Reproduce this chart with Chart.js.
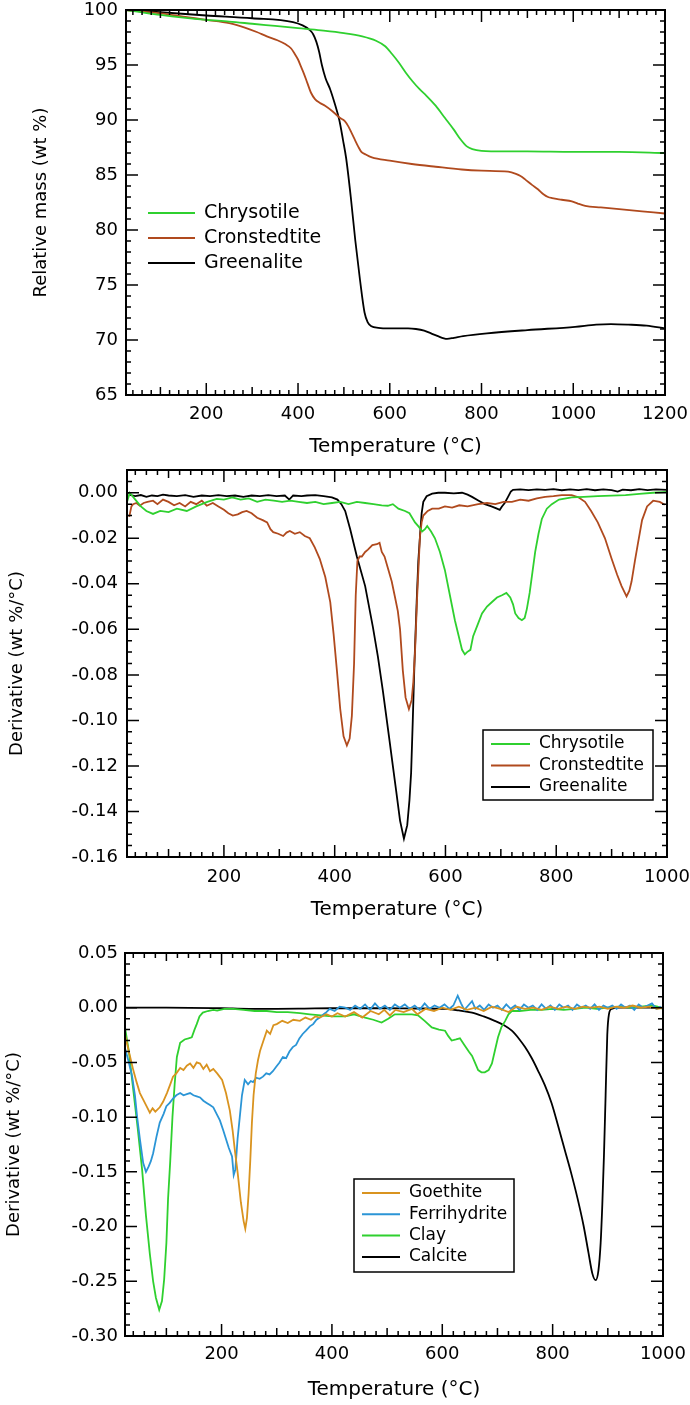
<!DOCTYPE html>
<html>
<head>
<meta charset="utf-8">
<script src="https://cdn.jsdelivr.net/npm/chart.js@4.4.1/dist/chart.umd.min.js"></script>
<style>
  html, body { margin: 0; padding: 0; background: #fff; }
  canvas { position: absolute; left: 0; }
</style>
</head>
<body>
<canvas id="tga" width="690" height="460" style="top:0px"></canvas>
<canvas id="dtg" width="690" height="470" style="top:460px"></canvas>
<canvas id="ref" width="690" height="475" style="top:930px"></canvas>
<script>
// ---------------------------- tick labels

const tempTicksTGA = [200, 400, 600, 800, 1000, 1200];
const tempTicksDTG = [200, 400, 600, 800, 1000];
const massTicks = [65, 70, 75, 80, 85, 90, 95, 100];
const dtgTicks = [-0.16, -0.14, -0.12, -0.10, -0.08, -0.06, -0.04, -0.02, 0.00];
const refTicks = [-0.30, -0.25, -0.20, -0.15, -0.10, -0.05, 0.00, 0.05];

// ---------------------------- data, [temperature °C, value]

// top panel: relative mass (wt %)
const chrysotileMass = [[25,100],[50,99.85],[100,99.55],[150,99.3],[200,99.1],[250,98.95],[300,98.75],[350,98.55],[400,98.35],[450,98.15],[500,97.9],[540,97.6],[570,97.2],[590,96.7],[605,96.0],[620,95.2],[635,94.3],[650,93.5],[665,92.8],[680,92.2],[700,91.3],[720,90.2],[740,89.1],[755,88.2],[768,87.6],[780,87.35],[800,87.2],[850,87.15],[900,87.15],[1000,87.1],[1100,87.1],[1200,87.0]];
const cronstedtiteMass = [[25,100],[100,99.7],[150,99.4],[200,99.1],[250,98.8],[284,98.4],[310,98.0],[332,97.6],[355,97.25],[372,96.9],[385,96.5],[393,96.0],[400,95.5],[407,94.8],[413,94.2],[420,93.4],[428,92.5],[437,91.9],[448,91.55],[459,91.3],[475,90.8],[491,90.2],[502,89.9],[510,89.4],[517,88.8],[524,88.2],[531,87.6],[538,87.1],[546,86.9],[561,86.6],[600,86.3],[648,86.0],[700,85.75],[757,85.5],[800,85.4],[858,85.3],[875,85.1],[885,84.9],[895,84.6],[910,84.1],[923,83.7],[935,83.25],[945,83.0],[954,82.9],[975,82.75],[997,82.6],[1010,82.4],[1026,82.2],[1060,82.05],[1100,81.9],[1150,81.7],[1200,81.5]];
const greenaliteMass = [[25,100],[100,99.8],[200,99.5],[300,99.25],[389,98.9],[410,98.6],[425,98.2],[433,97.8],[440,97.1],[446,96.2],[452,95.0],[460,93.8],[470,92.8],[480,91.5],[490,90.0],[498,88.2],[505,86.5],[515,83.0],[525,79.0],[535,75.5],[545,72.5],[552,71.6],[560,71.25],[575,71.1],[600,71.05],[640,71.05],[657,71.0],[675,70.85],[690,70.6],[705,70.35],[718,70.15],[725,70.1],[740,70.2],[760,70.35],[812,70.6],[900,70.9],[1004,71.2],[1050,71.4],[1082,71.45],[1120,71.4],[1160,71.3],[1200,71.05]];

// middle panel: derivative (wt %/°C)
const chrysotileDTG = [[25,-0.004],[30,0.0],[40,-0.003],[50,-0.006],[60,-0.008],[72,-0.0093],[85,-0.008],[100,-0.0085],[115,-0.007],[133,-0.008],[150,-0.006],[170,-0.004],[187,-0.0027],[200,-0.003],[215,-0.002],[230,-0.003],[245,-0.0025],[260,-0.004],[275,-0.003],[290,-0.0035],[305,-0.004],[320,-0.0035],[335,-0.004],[350,-0.0045],[365,-0.004],[380,-0.005],[395,-0.0045],[410,-0.004],[425,-0.005],[440,-0.004],[455,-0.0045],[470,-0.005],[485,-0.0055],[496,-0.0057],[505,-0.005],[515,-0.007],[527,-0.008],[535,-0.009],[545,-0.013],[552,-0.015],[558,-0.017],[563,-0.016],[567,-0.0146],[574,-0.017],[581,-0.020],[590,-0.026],[599,-0.034],[608,-0.045],[617,-0.056],[624,-0.063],[630,-0.069],[635,-0.071],[639,-0.070],[645,-0.069],[650,-0.063],[658,-0.058],[666,-0.053],[675,-0.050],[684,-0.048],[693,-0.046],[702,-0.045],[710,-0.044],[717,-0.046],[722,-0.049],[726,-0.053],[732,-0.055],[738,-0.056],[743,-0.055],[747,-0.051],[752,-0.044],[757,-0.035],[762,-0.026],[768,-0.018],[774,-0.0115],[783,-0.007],[792,-0.005],[805,-0.003],[828,-0.002],[850,-0.0018],[875,-0.0015],[900,-0.0013],[925,-0.001],[950,-0.0005],[975,0.0],[1000,0.0004]];
const cronstedtiteDTG = [[29,-0.0106],[33,-0.006],[36,-0.005],[42,-0.0045],[48,-0.0057],[55,-0.0045],[62,-0.004],[72,-0.0035],[80,-0.005],[90,-0.003],[100,-0.004],[110,-0.0055],[120,-0.0045],[130,-0.006],[140,-0.004],[150,-0.005],[160,-0.0035],[169,-0.0057],[180,-0.0045],[190,-0.006],[200,-0.0075],[208,-0.009],[216,-0.010],[225,-0.0095],[233,-0.0085],[241,-0.008],[250,-0.009],[260,-0.011],[270,-0.012],[278,-0.013],[284,-0.016],[289,-0.0173],[298,-0.018],[307,-0.019],[313,-0.0175],[319,-0.0168],[328,-0.018],[337,-0.0173],[346,-0.019],[355,-0.020],[364,-0.024],[373,-0.029],[383,-0.037],[392,-0.048],[398,-0.062],[404,-0.078],[410,-0.095],[416,-0.107],[422,-0.111],[427,-0.108],[431,-0.098],[435,-0.075],[438,-0.045],[441,-0.030],[445,-0.028],[449,-0.028],[455,-0.026],[460,-0.025],[468,-0.023],[476,-0.0226],[481,-0.022],[485,-0.026],[490,-0.028],[496,-0.033],[503,-0.039],[509,-0.046],[514,-0.052],[518,-0.060],[523,-0.078],[528,-0.090],[534,-0.095],[539,-0.091],[542,-0.083],[545,-0.070],[549,-0.045],[554,-0.019],[557,-0.013],[560,-0.010],[568,-0.008],[576,-0.007],[588,-0.007],[599,-0.006],[612,-0.0065],[625,-0.0055],[640,-0.006],[659,-0.005],[675,-0.0045],[690,-0.005],[705,-0.004],[720,-0.004],[735,-0.003],[750,-0.0035],[765,-0.0025],[780,-0.0018],[795,-0.0015],[810,-0.001],[828,-0.001],[840,-0.002],[852,-0.004],[863,-0.008],[875,-0.013],[888,-0.020],[900,-0.029],[910,-0.036],[918,-0.041],[927,-0.0455],[932,-0.043],[936,-0.039],[942,-0.030],[947,-0.023],[955,-0.012],[964,-0.006],[975,-0.0035],[987,-0.004],[996,-0.0053]];
const greenaliteDTG = [[28,0.0],[31,-0.001],[40,-0.0015],[50,-0.001],[60,-0.0018],[70,-0.0012],[80,-0.0015],[90,-0.0008],[100,-0.0012],[115,-0.0015],[130,-0.001],[145,-0.0018],[160,-0.0012],[175,-0.0015],[190,-0.001],[205,-0.0015],[220,-0.0012],[235,-0.0018],[250,-0.0012],[265,-0.0015],[280,-0.001],[295,-0.0015],[310,-0.0012],[318,-0.003],[325,-0.0012],[340,-0.0015],[350,-0.0012],[365,-0.001],[380,-0.0015],[395,-0.002],[405,-0.003],[412,-0.005],[419,-0.008],[428,-0.016],[440,-0.028],[455,-0.041],[469,-0.059],[478,-0.072],[487,-0.087],[498,-0.107],[505,-0.120],[511,-0.131],[518,-0.144],[525,-0.152],[531,-0.146],[535,-0.135],[538,-0.123],[541,-0.100],[544,-0.075],[548,-0.048],[551,-0.030],[554,-0.019],[557,-0.009],[560,-0.004],[566,-0.0015],[576,-0.0004],[587,0.0],[599,0.0],[615,-0.0003],[630,0.0],[640,-0.0008],[648,-0.0018],[660,-0.0035],[671,-0.005],[683,-0.006],[693,-0.007],[698,-0.0075],[702,-0.006],[707,-0.0045],[713,-0.0018],[718,0.0005],[722,0.0013],[735,0.0015],[750,0.0012],[765,0.0015],[780,0.0013],[795,0.0016],[810,0.0011],[825,0.0015],[840,0.0012],[855,0.0016],[870,0.0011],[885,0.0015],[900,0.0012],[911,0.0005],[920,0.0014],[935,0.0011],[950,0.0016],[965,0.0012],[980,0.0015],[1000,0.0013]];

// bottom panel: reference minerals, derivative (wt %/°C)
const goethiteDTG = [[25,-0.025],[32,-0.040],[40,-0.057],[46,-0.068],[52,-0.078],[58,-0.084],[64,-0.090],[70,-0.096],[75,-0.092],[80,-0.095],[88,-0.091],[94,-0.086],[101,-0.078],[107,-0.070],[112,-0.063],[118,-0.060],[125,-0.055],[131,-0.057],[137,-0.053],[143,-0.051],[149,-0.055],[155,-0.050],[161,-0.051],[167,-0.056],[173,-0.052],[179,-0.058],[185,-0.056],[192,-0.060],[201,-0.066],[208,-0.078],[215,-0.094],[220,-0.112],[224,-0.130],[229,-0.150],[235,-0.178],[240,-0.195],[243,-0.202],[246,-0.192],[249,-0.170],[252,-0.140],[255,-0.105],[258,-0.080],[262,-0.060],[266,-0.048],[270,-0.039],[276,-0.030],[282,-0.021],[288,-0.024],[294,-0.016],[300,-0.015],[310,-0.012],[320,-0.014],[330,-0.011],[342,-0.012],[352,-0.009],[362,-0.011],[370,-0.008],[378,-0.009],[390,-0.006],[400,-0.008],[410,-0.005],[424,-0.008],[440,-0.004],[455,-0.009],[470,-0.003],[485,-0.006],[495,-0.002],[505,-0.007],[515,-0.002],[530,-0.004],[545,-0.001],[555,-0.006],[570,-0.001],[585,-0.003],[600,0.0],[615,-0.002],[630,0.001],[645,-0.002],[660,0.0],[675,-0.003],[690,0.001],[705,-0.001],[720,-0.004],[735,0.001],[750,-0.001],[765,0.0],[780,-0.002],[795,0.001],[810,-0.001],[825,0.001],[840,-0.001],[855,0.001],[870,0.0],[885,0.001],[900,-0.001],[915,0.001],[930,0.0],[945,0.002],[960,0.0],[975,0.001],[990,-0.001],[1000,0.0]];
const ferrihydriteDTG = [[25,-0.037],[32,-0.050],[38,-0.063],[43,-0.080],[47,-0.100],[52,-0.120],[58,-0.142],[63,-0.150],[68,-0.145],[72,-0.140],[76,-0.133],[82,-0.118],[88,-0.105],[95,-0.097],[100,-0.090],[106,-0.087],[112,-0.083],[118,-0.080],[125,-0.078],[131,-0.080],[137,-0.079],[143,-0.078],[149,-0.080],[155,-0.081],[161,-0.082],[167,-0.085],[173,-0.087],[179,-0.089],[185,-0.091],[191,-0.097],[197,-0.103],[203,-0.112],[208,-0.120],[213,-0.128],[219,-0.136],[222,-0.153],[225,-0.148],[229,-0.120],[233,-0.100],[237,-0.080],[242,-0.066],[248,-0.070],[253,-0.067],[257,-0.068],[263,-0.064],[269,-0.065],[275,-0.063],[281,-0.060],[287,-0.061],[293,-0.058],[299,-0.054],[305,-0.050],[311,-0.045],[317,-0.046],[323,-0.040],[329,-0.036],[335,-0.034],[341,-0.028],[347,-0.024],[353,-0.021],[360,-0.017],[366,-0.015],[372,-0.011],[378,-0.009],[385,-0.006],[390,-0.004],[396,-0.001],[405,-0.003],[414,0.001],[424,0.0],[433,-0.002],[442,0.002],[451,-0.001],[460,0.003],[469,-0.002],[478,0.004],[487,-0.001],[496,0.002],[505,-0.002],[514,0.003],[523,0.0],[532,0.003],[541,-0.001],[550,0.002],[559,-0.002],[568,0.004],[577,-0.001],[586,0.002],[595,0.0],[604,0.003],[613,-0.001],[620,0.002],[628,0.011],[634,0.004],[640,-0.002],[647,0.002],[654,0.006],[660,-0.001],[668,0.002],[676,-0.002],[684,0.003],[692,0.0],[700,0.002],[708,-0.002],[716,0.003],[724,-0.001],[732,0.002],[740,-0.002],[748,0.003],[756,0.0],[764,0.002],[772,-0.002],[780,0.003],[788,-0.001],[796,0.002],[804,-0.002],[812,0.003],[820,0.0],[828,0.002],[836,-0.002],[844,0.003],[852,0.0],[860,0.002],[868,-0.001],[876,0.003],[884,-0.002],[892,0.002],[900,0.0],[908,0.002],[916,-0.001],[924,0.003],[932,0.0],[940,0.002],[948,-0.002],[956,0.003],[964,0.0],[972,0.002],[980,0.004],[988,-0.001],[996,0.001]];
const clayDTG = [[25,-0.018],[32,-0.040],[40,-0.075],[48,-0.110],[56,-0.148],[63,-0.190],[70,-0.225],[76,-0.250],[81,-0.265],[87,-0.276],[92,-0.268],[96,-0.248],[100,-0.215],[103,-0.175],[107,-0.140],[111,-0.100],[115,-0.070],[119,-0.045],[125,-0.032],[133,-0.029],[140,-0.028],[146,-0.027],[151,-0.020],[155,-0.015],[160,-0.008],[166,-0.0045],[175,-0.003],[185,-0.002],[192,-0.0027],[205,-0.001],[221,-0.001],[240,-0.002],[260,-0.003],[282,-0.003],[300,-0.004],[320,-0.004],[342,-0.005],[360,-0.006],[380,-0.007],[400,-0.008],[424,-0.008],[440,-0.006],[460,-0.009],[475,-0.011],[490,-0.0135],[502,-0.010],[514,-0.006],[530,-0.006],[545,-0.006],[556,-0.007],[568,-0.012],[581,-0.018],[594,-0.020],[605,-0.021],[611,-0.026],[617,-0.030],[625,-0.029],[632,-0.028],[640,-0.034],[648,-0.040],[654,-0.044],[660,-0.051],[665,-0.057],[671,-0.059],[677,-0.059],[684,-0.057],[690,-0.051],[695,-0.040],[701,-0.027],[707,-0.018],[714,-0.012],[720,-0.006],[726,-0.003],[740,-0.003],[760,-0.002],[780,-0.002],[800,-0.001],[820,-0.002],[840,-0.001],[860,0.0],[880,-0.001],[900,0.0],[920,0.001],[940,0.0],[960,0.001],[980,0.002],[990,0.001],[1000,-0.001]];
const calciteDTG = [[25,0.0],[100,0.0],[200,-0.0005],[250,-0.001],[300,-0.001],[350,-0.0008],[400,-0.0005],[450,-0.0005],[500,-0.0005],[550,-0.0007],[605,-0.001],[630,-0.0025],[654,-0.0045],[675,-0.008],[695,-0.012],[712,-0.016],[726,-0.021],[740,-0.029],[750,-0.036],[762,-0.046],[773,-0.057],[786,-0.071],[798,-0.087],[810,-0.108],[822,-0.130],[833,-0.150],[845,-0.174],[856,-0.199],[865,-0.224],[872,-0.243],[878,-0.249],[883,-0.240],[887,-0.215],[890,-0.180],[893,-0.135],[896,-0.080],[899,-0.025],[902,-0.006],[907,-0.001],[920,0.0],[950,0.0],[1000,0.0]];

const GREEN = '#2fd02f';
const BROWN = '#b04a1e';
const BLACK = '#000000';
const ORANGE = '#d9931f';
const BLUE = '#2b95d6';

Chart.defaults.font.family = '"DejaVu Sans", Verdana, sans-serif';
Chart.defaults.color = '#000';

// --------------------------- plugins

function tickMarks(min, max, minor, mid, major) {
    const out = [];
    const isMult = (v, s) => s && Math.abs(v / s - Math.round(v / s)) < 1e-6;
    for (let i = Math.ceil(min / minor - 1e-6); i * minor <= max + 1e-9; i++) {
        const v = i * minor;
        out.push([v, isMult(v, major) ? 12 : (isMult(v, mid) ? 8 : 5)]);
    }
    return out;
}

// box around the plot with inward ticks on all four sides
const frameTicks = {
    id: 'frameTicks',
    afterDraw(chart, args, o) {
        const { ctx, chartArea: a, scales: { x, y } } = chart;
        ctx.save();
        ctx.strokeStyle = '#000';
        ctx.lineWidth = 1.5;
        ctx.beginPath();
        tickMarks(x.min, x.max, o.xMinor, o.xMid, o.xMajor).forEach(([v, len]) => {
            const px = x.getPixelForValue(v);
            ctx.moveTo(px, a.bottom); ctx.lineTo(px, a.bottom - len);
            ctx.moveTo(px, a.top); ctx.lineTo(px, a.top + len);
        });
        tickMarks(y.min, y.max, o.yMinor, o.yMid, o.yMajor).forEach(([v, len]) => {
            const py = y.getPixelForValue(v);
            ctx.moveTo(a.left, py); ctx.lineTo(a.left + len, py);
            ctx.moveTo(a.right, py); ctx.lineTo(a.right - len, py);
        });
        ctx.stroke();
        ctx.lineWidth = 2;
        ctx.strokeRect(a.left, a.top, a.right - a.left, a.bottom - a.top);
        ctx.restore();
    }
};

// legend placed inside the plot, optionally boxed
const insetLegend = {
    id: 'insetLegend',
    afterDraw(chart, args, o) {
        const ctx = chart.ctx;
        ctx.save();
        if (o.box) {
            ctx.fillStyle = '#fff';
            ctx.fillRect(o.box[0], o.box[1], o.box[2], o.box[3]);
            ctx.strokeStyle = '#000';
            ctx.lineWidth = 1.5;
            ctx.strokeRect(o.box[0], o.box[1], o.box[2], o.box[3]);
        }
        ctx.font = o.fontSize + 'px "DejaVu Sans", Verdana, sans-serif';
        ctx.textBaseline = 'middle';
        chart.data.datasets.forEach((ds, i) => {
            const yy = o.y + i * o.rowH;
            ctx.strokeStyle = ds.borderColor;
            ctx.lineWidth = 2;
            ctx.beginPath();
            ctx.moveTo(o.x, yy);
            ctx.lineTo(o.x + o.lineLen, yy);
            ctx.stroke();
            ctx.fillStyle = '#000';
            ctx.fillText(ds.label, o.textX, yy);
        });
        ctx.restore();
    }
};

// --------------------------- chart setup

function series(label, pairs, color, smooth) {
    return {
        label: label,
        data: pairs.map(([x, y]) => ({ x: x, y: y })),
        borderColor: color,
        backgroundColor: color,
        borderWidth: 1.8,
        pointRadius: 0,
        cubicInterpolationMode: smooth ? 'monotone' : 'default',
        tension: 0
    };
}

function buildChart(id, datasets, p) {
    return new Chart(document.getElementById(id), {
        type: 'line',
        data: { datasets: datasets },
        plugins: [frameTicks, insetLegend],
        options: {
            responsive: false,
            animation: false,
            devicePixelRatio: 1,
            layout: { padding: { left: 0, top: p.top, right: p.right, bottom: 0 } },
            plugins: {
                legend: { display: false },
                tooltip: { enabled: false },
                frameTicks: p.ticks,
                insetLegend: p.legend
            },
            scales: {
                x: {
                    type: 'linear',
                    min: p.xMin,
                    max: p.xMax,
                    afterBuildTicks: (s) => { s.ticks = p.xTicks.map(v => ({ value: v })); },
                    afterFit: (s) => {
                        s.height = p.xAxisH;
                        s.paddingLeft = 0;
                        s.paddingRight = 0;
                    },
                    grid: { display: false, drawTicks: false },
                    border: { display: false },
                    ticks: {
                        autoSkip: false,
                        maxRotation: 0,
                        padding: p.xTickPad,
                        font: { size: 18 },
                        color: '#000',
                        callback: (v) => String(Math.round(v))
                    },
                    title: {
                        display: true,
                        text: 'Temperature (°C)',
                        font: { size: 20 },
                        color: '#000',
                        padding: { top: 0, bottom: p.xTitlePad }
                    }
                },
                y: {
                    type: 'linear',
                    min: p.yMin,
                    max: p.yMax,
                    afterBuildTicks: (s) => { s.ticks = p.yTicks.map(v => ({ value: v })); },
                    afterFit: (s) => {
                        s.width = p.left;
                        s.paddingTop = 0;
                        s.paddingBottom = 0;
                    },
                    grid: { display: false, drawTicks: false },
                    border: { display: false },
                    ticks: {
                        autoSkip: false,
                        padding: p.yTickPad,
                        font: { size: 18 },
                        color: '#000',
                        callback: (v) => (Math.abs(v) < 1e-9 ? 0 : v).toFixed(p.yDigits)
                    },
                    title: {
                        display: true,
                        text: p.yTitle,
                        font: { size: 18 },
                        color: '#000',
                        padding: { top: p.yTitlePad, bottom: 0 }
                    }
                }
            }
        }
    });
}

buildChart('tga', [
    series('Chrysotile', chrysotileMass, GREEN, true),
    series('Cronstedtite', cronstedtiteMass, BROWN, true),
    series('Greenalite', greenaliteMass, BLACK, true)
], {
    top: 10, right: 25, left: 126, xAxisH: 65,
    xMin: 25, xMax: 1200, xTicks: tempTicksTGA, xTickPad: 9, xTitlePad: 1,
    yMin: 65, yMax: 100, yTicks: massTicks, yDigits: 0, yTickPad: 8,
    yTitle: 'Relative mass (wt %)', yTitlePad: 31,
    ticks: { xMinor: 20, xMid: 100, xMajor: 200, yMinor: 1, yMid: 0, yMajor: 5 },
    legend: { x: 148, lineLen: 47, textX: 204, y: 213, rowH: 25, fontSize: 19 }
});

buildChart('dtg', [
    series('Chrysotile', chrysotileDTG, GREEN),
    series('Cronstedtite', cronstedtiteDTG, BROWN),
    series('Greenalite', greenaliteDTG, BLACK)
], {
    top: 10, right: 23, left: 127, xAxisH: 73,
    xMin: 25, xMax: 1000, xTicks: tempTicksDTG, xTickPad: 10, xTitlePad: 8,
    yMin: -0.16, yMax: 0.01, yTicks: dtgTicks, yDigits: 2, yTickPad: 9,
    yTitle: 'Derivative (wt %/°C)', yTitlePad: 7,
    ticks: { xMinor: 20, xMid: 100, xMajor: 200, yMinor: 0.005, yMid: 0, yMajor: 0.02 },
    legend: { box: [483, 270, 170, 70], x: 491, lineLen: 39, textX: 539, y: 284, rowH: 21.5, fontSize: 17 }
});

buildChart('ref', [
    series('Goethite', goethiteDTG, ORANGE),
    series('Ferrihydrite', ferrihydriteDTG, BLUE),
    series('Clay', clayDTG, GREEN),
    series('Calcite', calciteDTG, BLACK, true)
], {
    top: 23, right: 27, left: 125, xAxisH: 69,
    xMin: 25, xMax: 1000, xTicks: tempTicksDTG, xTickPad: 8, xTitlePad: 3,
    yMin: -0.30, yMax: 0.05, yTicks: refTicks, yDigits: 2, yTickPad: 7,
    yTitle: 'Derivative (wt %/°C)', yTitlePad: 4,
    ticks: { xMinor: 20, xMid: 100, xMajor: 200, yMinor: 0.01, yMid: 0, yMajor: 0.05 },
    legend: { box: [354, 249, 160, 93], x: 362, lineLen: 38, textX: 409, y: 263, rowH: 21.3, fontSize: 17 }
});
</script>
</body>
</html>
